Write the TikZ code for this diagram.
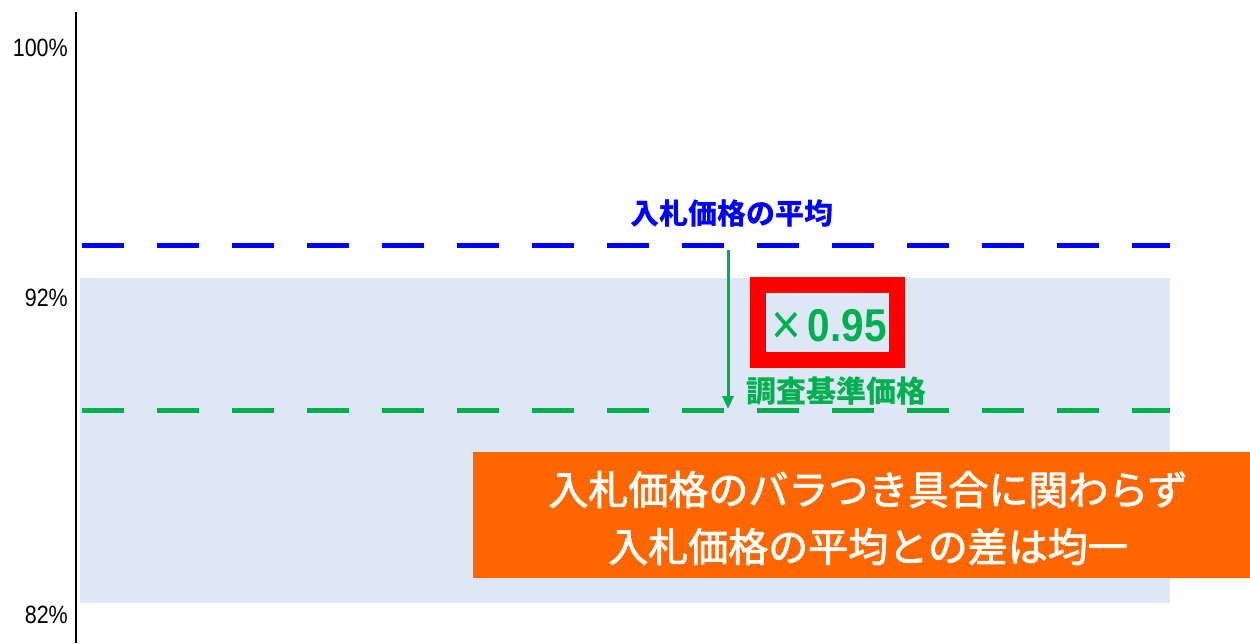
\documentclass[tikz,border=0pt]{standalone}
\usepackage{fontspec}
\setmainfont{Liberation Sans}
\newfontfamily\jp{Noto Sans CJK JP}
\newfontfamily\jpm{Noto Sans CJK JP}[BoldFont={Noto Sans CJK JP},BoldFeatures={FakeBold=2}]
\usetikzlibrary{arrows.meta}
\definecolor{bandblue}{HTML}{DDE8F4}
\definecolor{myblue}{HTML}{0000FF}
\definecolor{mygreen}{HTML}{00B050}
\definecolor{myorange}{HTML}{FF6600}
\definecolor{myred}{HTML}{FF0000}
\tikzset{
  axislabel/.style={anchor=east, font=\fontsize{25}{25}\selectfont, inner sep=0pt, xscale=0.86},
  levelline/.style={line width=5pt, dash pattern=on 42pt off 33pt},
}
\begin{document}
\begin{tikzpicture}[x=1pt,y=-1pt]
\useasboundingbox (0,0) rectangle (1250,643);
\fill[bandblue] (80,278) rectangle (1170,603);
\draw[line width=2.5pt] (76,12) -- (76,643);
\node[axislabel] (l100) at (68,48) {100\%};
\node[axislabel] (l92) at (68,298) {92\%};
\node[axislabel] (l82) at (68,615) {82\%};
\coordinate (b1) at (82,245);
\coordinate (b2) at (1170,245);
\coordinate (g1) at (82,410);
\coordinate (g2) at (1170,410);
\draw[levelline, myblue] (b1) -- (b2);
\draw[levelline, mygreen] (g1) -- (g2);
\node[font=\jp\bfseries\fontsize{29}{29}\selectfont, text=myblue] (avg) at (732,213) {入札価格の平均};
\coordinate (a1) at (728,250);
\coordinate (a2) at (728,409);
\draw[mygreen, line width=3pt, -{Triangle[length=13pt,width=11pt]}] (a1) -- (a2);
\node[draw=myred, line width=16pt, minimum width=139pt, minimum height=75pt, inner sep=0pt] (box) at (827.5,322.5) {};
\node[text=mygreen, inner sep=0pt, xscale=0.88] (fac) at (829,327) {\raisebox{-3pt}{\fontsize{58}{46}\selectfont ×}\fontsize{46}{46}\selectfont\,\bfseries 0.95};
\node[font=\jp\bfseries\fontsize{30}{30}\selectfont, text=mygreen] (std) at (836,391) {調査基準価格};
\node[fill=myorange, minimum width=777pt, minimum height=126pt, inner sep=0pt] (msg) at (861.5,515) {};
\node[font=\jpm\bfseries\fontsize{40}{57}\selectfont, text=white, align=center] (msgt) at (868,518) {入札価格のバラつき具合に関わらず\\入札価格の平均との差は均一};
\end{tikzpicture}
\end{document}
